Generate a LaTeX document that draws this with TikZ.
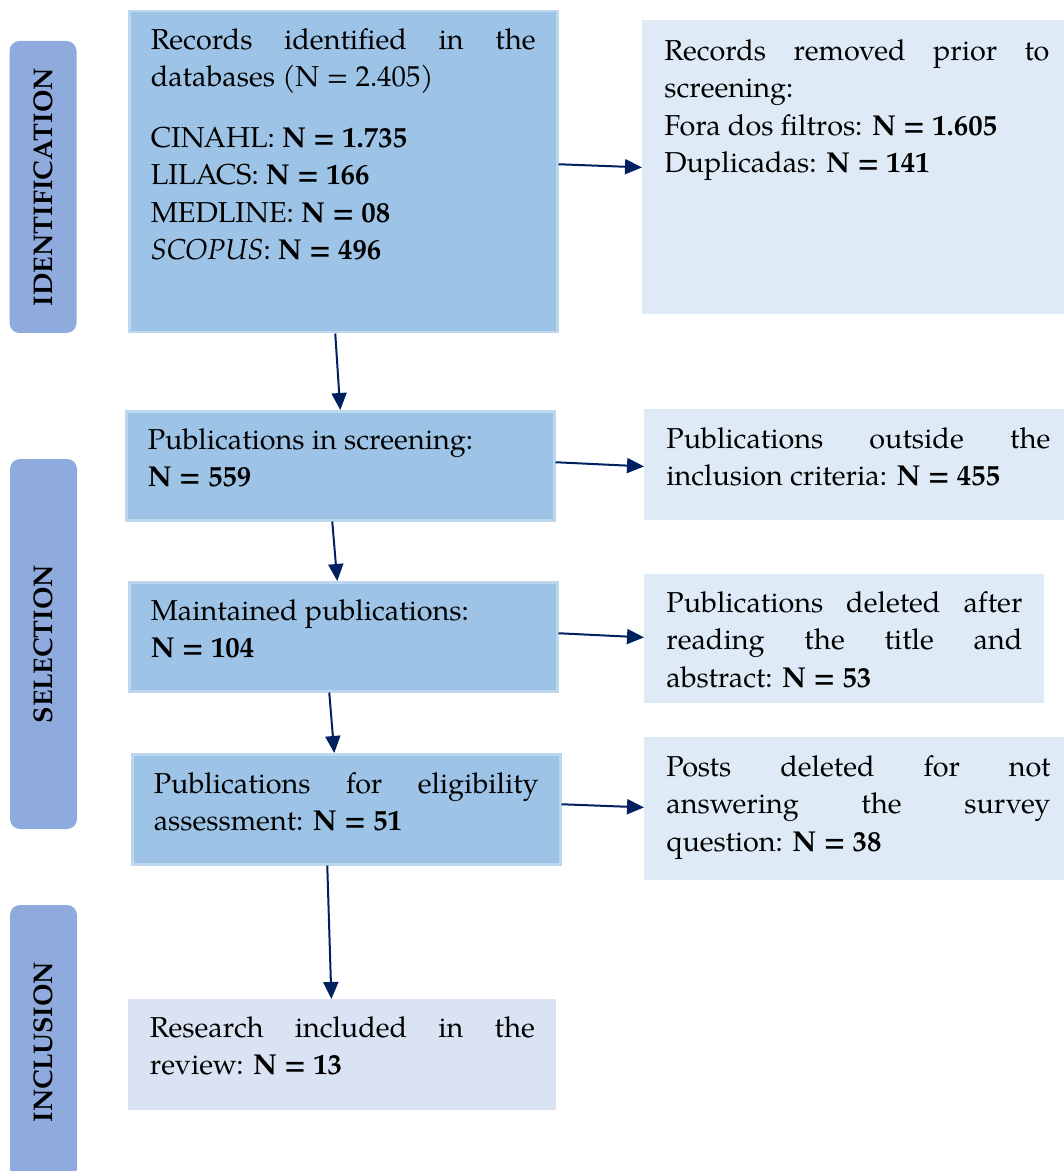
\documentclass[tikz,border=0pt]{standalone}
\usepackage{fontspec}
\setmainfont{texgyrepagella}[Extension=.otf, UprightFont=*-regular, BoldFont=*-bold, ItalicFont=*-italic, BoldItalicFont=*-bolditalic]
\usepackage{tikz}
\usetikzlibrary{arrows.meta}
\usetikzlibrary{positioning}

\definecolor{boxblue}{HTML}{9DC3E6}
\definecolor{boxedge}{HTML}{BDD7EE}
\definecolor{sideblue}{HTML}{DEEBF7}
\definecolor{endblue}{HTML}{DAE3F3}
\definecolor{tabblue}{HTML}{8FAADC}
\definecolor{arrowblue}{HTML}{002060}
\hyphenpenalty=10000
\exhyphenpenalty=10000

\begin{document}
\begin{tikzpicture}[
        x=0.5pt, y=-0.5pt,
        every node/.style={color=black, font=\fontsize{14.4}{18.75}\selectfont},
        stage/.style={rotate=90, fill=tabblue, rounded corners=5pt, minimum height=33.5pt,
        inner sep=0pt, font=\fontsize{13.5}{16}\selectfont\bfseries},
        main box/.style={fill=boxblue, draw=boxedge, line width=1.25pt, inner ysep=0pt,
        anchor=north west, align=justify},
        side box/.style={fill=sideblue, inner ysep=0pt, anchor=north west, align=justify},
        pile/.style={line width=1pt, draw=arrowblue, -{Triangle[length=8.5pt, width=7.5pt]}}
        ]
        \useasboundingbox (0,0) rectangle (1064,1171);

        % stages
        \node[stage, minimum width=146pt] (identification) at (43,187) {IDENTIFICATION};
        \node[stage, minimum width=185pt] (selection) at (43.5,644) {SELECTION};
        \node[stage, minimum width=137pt] (inclusion) at (43.5,1042) {INCLUSION};

        % main column
        \node[main box, text width=192.5pt, inner xsep=10.75pt, text height=19pt, text depth=141.5pt]
            (records) at (128,10) {Records identified in the\linebreak databases (N = 2.405)\\[11.5pt]
            CINAHL: \textbf{N = 1.735}\\ LILACS: \textbf{N = 166}\\ MEDLINE: \textbf{N = 08}\\
            \textit{SCOPUS}: \textbf{N = 496}};
        \node[main box, text width=192.5pt, inner xsep=10.75pt, text height=19pt, text depth=35.5pt]
            (screen) at (125,410) {Publications in screening:\\ \textbf{N = 559}};
        \node[main box, text width=192.5pt, inner xsep=10.75pt, text height=19pt, text depth=35.5pt]
            (kept) at (128,581) {Maintained publications:\\ \textbf{N = 104}};
        \node[main box, text width=192.5pt, inner xsep=10.75pt, text height=19.5pt, text depth=35.5pt]
            (elig) at (131,753) {Publications for eligibility\linebreak assessment: \textbf{N = 51}};
        \node[side box, fill=endblue, text width=192.5pt, inner xsep=10.75pt, text height=19pt, text depth=36.5pt]
            (incl) at (128,999) {Research included in the\linebreak review: \textbf{N = 13}};

        % removed records
        \node[side box, text width=192.5pt, inner xsep=11pt, text height=20pt, text depth=127pt]
            (removed) at (642,20) {Records removed prior to\linebreak screening:\\
            Fora dos filtros: \textbf{N = 1.605}\\ Duplicadas: \textbf{N = 141}};
        \node[side box, text width=192pt, inner xsep=11pt, text height=19.5pt, text depth=36pt]
            (outside) at (644,409) {Publications outside the\linebreak inclusion criteria: \textbf{N = 455}};
        \node[side box, text width=178pt, inner xsep=11pt, text height=19pt, text depth=45.5pt]
            (deleted) at (644,574) {Publications deleted after\linebreak reading the title and\linebreak
            abstract: \textbf{N = 53}};
        \node[side box, text width=192pt, inner xsep=11pt, text height=19.5pt, text depth=52pt]
            (posts) at (644,737) {Posts deleted for not\linebreak answering the survey\linebreak
            question: \textbf{N = 38}};

        % down
        \draw[pile] ([xshift=-4pt]records.south) -- (screen.north);
        \draw[pile] ([xshift=-4pt]screen.south) -- ([xshift=-3pt]kept.north);
        \draw[pile] ([xshift=-7pt]kept.south) -- ([xshift=-6pt]elig.north);
        \draw[pile] ([xshift=-9.5pt]elig.south) -- ([xshift=-5.5pt]incl.north);

        % aside
        \draw[pile] ([yshift=3.75pt]records.east) -- (removed.west);
        \draw[pile] ([yshift=1.75pt]screen.east) -- ([yshift=-0.75pt]outside.west);
        \draw[pile] ([yshift=1.75pt]kept.east) -- ([yshift=0.75pt]deleted.west);
        \draw[pile] ([yshift=2.5pt]elig.east) -- ([yshift=0.75pt]posts.west);

    \end{tikzpicture}
\end{document}
